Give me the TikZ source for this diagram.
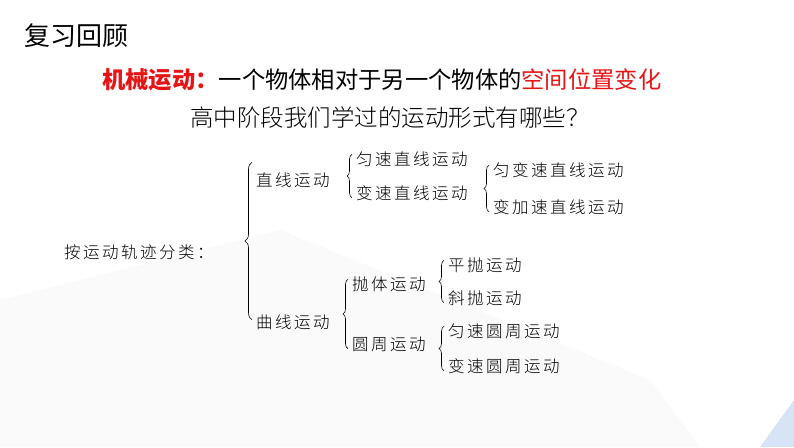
\documentclass[tikz,border=0pt]{standalone}
\usepackage{fontspec}
\newfontfamily\cjk{Noto Sans CJK SC}
\newfontfamily\cjkl{Noto Sans CJK SC Light}
\newfontfamily\cjkt[LetterSpace=15]{Noto Sans CJK SC Light}
\usetikzlibrary{decorations.pathreplacing}
\definecolor{myred}{RGB}{230,20,20}
\definecolor{lblue}{RGB}{215,228,245}
\tikzset{lbl/.style={anchor=west,inner sep=0,font=\cjkt\fontsize{16.5}{16.5}\selectfont},
 br/.style={decorate,decoration={brace,amplitude=5pt,mirror},line width=0.6pt}}
\begin{document}
\begin{tikzpicture}[x=1pt,y=-1pt]
\fill[white] (0,0) rectangle (794,447);
\fill[gray!4] (0,447) -- (0,300) -- (280,230) -- (650,380) -- (700,447) -- cycle;
\fill[lblue] (760,447) -- (794,400) -- (794,447) -- cycle;
\node[anchor=west,inner sep=0,font=\cjk\fontsize{26}{26}\selectfont] (t) at (24,36) {复习回顾};
\node[anchor=west,inner sep=0,font=\cjk\fontsize{23.3}{23.3}\selectfont] (d) at (102,80) {\textcolor{myred}{\bfseries 机械运动：}一个物体相对于另一个物体的\textcolor{myred}{空间位置变化}};
\node[inner sep=0,font=\cjkl\fontsize{23.5}{23.5}\selectfont] (q) at (390,118) {高中阶段我们学过的运动形式有哪些？};
\node[lbl] (root) at (64,252) {按运动轨迹分类：};
\node[lbl] (a) at (256,180) {直线运动};
\node[lbl] (a1) at (356,159) {匀速直线运动};
\node[lbl] (a2) at (356,193) {变速直线运动};
\node[lbl] (a21) at (493,170) {匀变速直线运动};
\node[lbl] (a22) at (493,207) {变加速直线运动};
\node[lbl] (b) at (256,322) {曲线运动};
\node[lbl] (b1) at (352,284) {抛体运动};
\node[lbl] (b11) at (448,265) {平抛运动};
\node[lbl] (b12) at (448,298) {斜抛运动};
\node[lbl] (b2) at (352,344) {圆周运动};
\node[lbl] (b21) at (448,331) {匀速圆周运动};
\node[lbl] (b22) at (448,366) {变速圆周运动};
\draw[br,decoration={amplitude=7pt}] ([xshift=-4pt]a.west|-a.north) ++(0,-10) coordinate (p1) (p1) -- ([xshift=-4pt,yshift=10pt]b.south west);
\draw[br] ([xshift=-4pt,yshift=-3pt]a1.north west) -- ([xshift=-4pt,yshift=3pt]a2.south west);
\draw[br] ([xshift=-4pt,yshift=-3pt]a21.north west) -- ([xshift=-4pt,yshift=3pt]a22.south west);
\draw[br] ([xshift=-4pt,yshift=-3pt]b1.north west) -- ([xshift=-4pt,yshift=3pt]b2.south west);
\draw[br] ([xshift=-4pt,yshift=-3pt]b11.north west) -- ([xshift=-4pt,yshift=3pt]b12.south west);
\draw[br] ([xshift=-4pt,yshift=-3pt]b21.north west) -- ([xshift=-4pt,yshift=3pt]b22.south west);
\end{tikzpicture}
\end{document}
